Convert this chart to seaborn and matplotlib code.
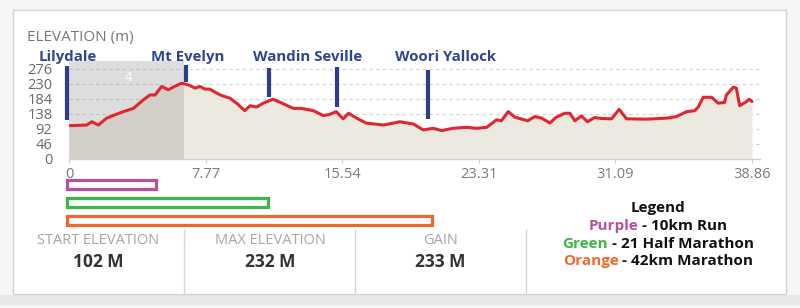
import matplotlib
matplotlib.use("Agg")
import matplotlib.pyplot as plt
from matplotlib.patches import Rectangle
from matplotlib.lines import Line2D
import seaborn as sns
import numpy as np

# ---------------- data ----------------
distance_km = [0, 0.5, 1.0, 1.3, 1.67, 2.14, 2.6, 3.09, 3.66, 4.23, 4.6, 4.9, 5.27, 5.65, 6.0,
               6.4, 6.79, 7.17, 7.45, 7.74, 8.0, 8.6, 9.16, 9.6, 10.0, 10.3, 10.68, 11.05, 11.6,
               12.2, 12.76, 13.2, 13.9, 14.47, 14.8, 15.2, 15.6, 15.9, 16.37, 16.9, 17.9, 18.83,
               19.6, 20.16, 20.72, 21.2, 21.86, 22.6, 23.2, 23.76, 24.33, 24.6, 24.99, 25.37,
               26.1, 26.5, 26.9, 27.36, 27.7, 28.2, 28.5, 28.78, 29.16, 29.5, 29.9, 30.3, 30.87,
               31.3, 31.72, 32.86, 34.0, 34.57, 35.14, 35.6, 35.8, 36.08, 36.56, 36.93, 37.3,
               37.4, 37.8, 37.97, 38.16, 38.55, 38.7, 38.86]
elevation_m = [102, 103, 104, 114, 104, 125, 135, 145, 155, 181, 196, 196, 222, 212, 222,
               232, 227, 217, 222, 214, 214, 196, 186, 168, 148, 163, 159, 171, 183,
               169, 155, 155, 148, 133, 136, 145, 123, 140, 125, 110, 104, 114,
               107, 89, 94, 87, 94, 97, 94, 97, 120, 117, 145, 128,
               117, 130, 125, 110, 127, 140, 140, 117, 132, 114, 127, 124, 123,
               152, 123, 122, 125, 130, 145, 148, 159, 189, 189, 171, 173,
               196, 220, 217, 163, 176, 183, 176]

y_ticks = [0, 46, 92, 138, 184, 230, 276]
x_ticks = [0, 7.77, 15.54, 23.31, 31.09, 38.86]
x_tick_labels = ["0", "7.77", "15.54", "23.31", "31.09", "38.86"]

highlight_km = [0, 6.54]
highlight_label = "4"

marker_km = [-0.1, 6.66, 11.4, 15.23, 20.44]
marker_low = [120, 237, 189, 160, 122]
marker_high = [285, 288, 278, 283, 273]

town_names = ["Lilydale", "Mt Evelyn", "Wandin Seville", "Woori Yallock"]
town_label_km = [-0.05, 6.77, 13.6, 21.4]

race_names = ["10km Run", "21 Half Marathon", "42km Marathon"]
race_bar_len = [5.12, 11.44, 20.77]
race_colors = ["#B5519F", "#3DB54A", "#EE6A2C"]
race_color_words = ["Purple", "Green", "Orange"]

stat_titles = ["START ELEVATION", "MAX ELEVATION", "GAIN"]
stat_values = ["102 M", "232 M", "233 M"]

# ---------------- style ----------------
sns.set_theme(style="white")
plt.rcParams["font.family"] = ["Open Sans", "DejaVu Sans"]

W, H = 800, 308
fig = plt.figure(figsize=(W / 100, H / 100), dpi=100, facecolor="#F5F5F5")


def fx(x):
    return x / W


def fy(y):
    return 1 - y / H


# card
fig.patches.append(Rectangle((fx(0), fy(305)), 1, (305 - 295) / H, transform=fig.transFigure,
                             fc="#E8E8E8", ec="none", zorder=-3))
fig.patches.append(Rectangle((fx(13), fy(294)), (786 - 13) / W, (294 - 10) / H,
                             transform=fig.transFigure, fc="white", ec="#D3D3D3", lw=1, zorder=-2))

# ---------------- main axes ----------------
scale = 17.576  # px per km
x0_px = 69
xmax = 39.3
ax = fig.add_axes([fx(x0_px), fy(159), xmax * scale / W, 98 / H])
ax.patch.set_alpha(0)

ax.fill_between(distance_km, elevation_m, 0, color="#ECEAE0", lw=0, zorder=1)
ax.axvspan(highlight_km[0], highlight_km[1], color="#9a9a9a", alpha=0.33, lw=0, zorder=2)
sns.lineplot(x=distance_km, y=elevation_m, color="#E0262E", lw=2.2, ax=ax, zorder=4)

ax.set_xlim(0, xmax)
ax.set_ylim(0, 300)
ax.set_yticks(y_ticks)
ax.set_yticklabels([str(v) for v in y_ticks])
ax.set_xticks(x_ticks)
ax.set_xticklabels(x_tick_labels)
for v in y_ticks[1:]:
    ax.axhline(v, color="#D2D2D2", lw=0.8, ls=(0, (3, 3)), zorder=0.5)

for s in ["top", "right", "left"]:
    ax.spines[s].set_visible(False)
ax.spines["bottom"].set_color("#CFCFD6")
ax.spines["bottom"].set_linewidth(1)
ax.tick_params(axis="y", length=0, pad=12, labelsize=10.5, labelcolor="#6A6A6A")
ax.tick_params(axis="x", length=3, width=0.8, color="#CFCFD6", pad=3, labelsize=10.5,
               labelcolor="#7A7A7A", bottom=True)
ax.set_xlabel("")
ax.set_ylabel("")
ax.grid(False)

ax.text(3.37, 251, highlight_label, color="white", fontsize=9,
        ha="center", va="center", zorder=3)

ax.vlines(marker_km, marker_low, marker_high, color="#2E3D8F", lw=3, clip_on=False, zorder=5)
for name, xk in zip(town_names, town_label_km):
    ax.text(xk, 313, name, ha="center", va="center", fontsize=10.8, fontweight="bold",
            color="#2E4595", clip_on=False)

fig.text(fx(27), fy(37), "ELEVATION (m)", fontsize=11, color="#777777", ha="left", va="center")

# ---------------- race bars ----------------
bx_left_px = 66.5 - 0.3 * scale
bax = fig.add_axes([fx(bx_left_px), fy(229.1), 39.8 * scale / W, 53.25 / H])
bax.patch.set_alpha(0)
sns.barplot(x=race_bar_len, y=race_names, hue=race_names, palette=race_colors, fill=False,
            linewidth=2.3, width=0.507, legend=False, orient="h", ax=bax)
bax.set_xlim(-0.3, 39.5)
bax.set_ylim(2.5, -0.5)
bax.axis("off")

# ---------------- stats panel ----------------
for xd in [184, 355, 526]:
    fig.add_artist(Line2D([fx(xd), fx(xd)], [fy(230), fy(294)], transform=fig.transFigure,
                          color="#D6D6D6", lw=1))
for cx, t, v in zip([98, 270, 440], stat_titles, stat_values):
    fig.text(fx(cx), fy(240), t, fontsize=10.5, color="#A6A6A6", ha="center", va="center")
    fig.text(fx(cx), fy(262), v, fontsize=12.5, fontweight="bold", color="#333333",
             ha="center", va="center")

# legend
fig.text(fx(658), fy(208), "Legend", fontsize=11, fontweight="bold", color="#111111",
         ha="center", va="center")
renderer = fig.canvas.get_renderer()
for i, (word, name, col) in enumerate(zip(race_color_words, race_names, race_colors)):
    cy = 226 + i * 17.5
    parts = [(word, col), (" - " + name, "#111111")]
    texts = [fig.text(0, fy(cy), s, fontsize=11, fontweight="bold", color=c, ha="left",
                      va="center") for s, c in parts]
    widths = [t.get_window_extent(renderer).width for t in texts]
    xcur = 658 - sum(widths) / 2
    for t, w in zip(texts, widths):
        t.set_x(fx(xcur))
        xcur += w

fig.savefig("out.png", dpi=100, facecolor=fig.get_facecolor())
